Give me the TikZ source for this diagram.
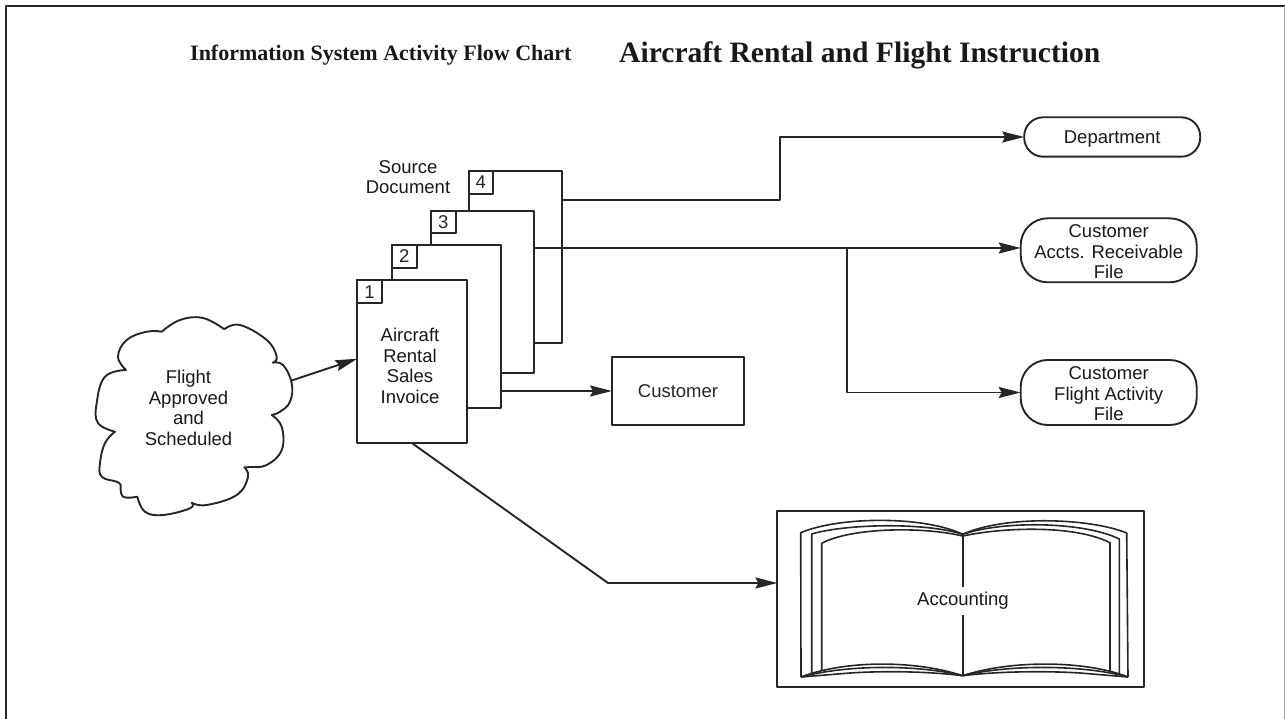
\documentclass[tikz,border=0pt]{standalone}
\usepackage{fontspec}
\setmainfont{Liberation Sans}
\newfontfamily\titlefont{Liberation Serif}
\usetikzlibrary{arrows.meta}
\tikzset{
  line/.style={line width=1.9pt,black!85},
  flow/.style={line,-{Stealth[length=22pt,width=11pt,inset=3pt]}},
  box/.style={draw,line,fill=white,rectangle,inner sep=0pt,outer sep=0pt,align=center},
  tabbox/.style={box,font=\fontsize{18.5}{20}\selectfont},
  term/.style={box,rounded corners=27pt,minimum width=176pt,font=\fontsize{18.5}{20.6}\selectfont},
  lbl/.style={inner sep=0pt,align=center,font=\fontsize{18.5}{20.6}\selectfont,text=black!90},
  ttl/.style={inner sep=0pt,anchor=west,text=black!90},
  bookline/.style={line,line width=1.6pt}
}
\begin{document}
\begin{tikzpicture}[x=1pt,y=-1pt,line join=round]
\useasboundingbox (0,0) rectangle (1285,719);
% frame
\draw[line width=1.8pt,black!85] (6.3,719) -- (6.3,6.3) -- (1285,6.3);
\draw[line width=1.4pt,black!35] (1284.4,6.3) -- (1284.4,719);
% title
\node[ttl] (t1) at (190,55) {\titlefont\bfseries\fontsize{22}{24}\selectfont Information System Activity Flow Chart};
\node[ttl] (t2) at (619,55) {\titlefont\bfseries\fontsize{29.6}{32}\selectfont Aircraft Rental and Flight Instruction};
% cloud
\draw[line] plot[smooth,tension=.7] coordinates {(224.3,329.3) (240,325) (266.7,340) (276.7,356.7) (272.7,362.7)}
 -- plot[smooth,tension=.7] coordinates {(272.7,362.7) (283,365) (291.7,383) (290,401.7) (280,411.7) (271.7,415)}
 -- plot[smooth,tension=.7] coordinates {(271.7,415) (281.7,426.7) (281.7,450) (266.7,465) (250,467) (244.3,467.3)}
 -- plot[smooth,tension=.7] coordinates {(244.3,467.3) (248,477) (236.7,495) (206.7,505) (191.7,502.7)}
 -- plot[smooth,tension=.7] coordinates {(191.7,502.7) (190,508.3) (163,515) (145,511.7) (137.3,496.7)}
 -- plot[smooth,tension=.7] coordinates {(137.3,496.7) (123,496.7) (120.7,485)}
 -- plot[smooth,tension=.7] coordinates {(120.7,485) (116.7,481.7) (101.7,476.7) (100,463) (105,443) (115,431.7)}
 -- plot[smooth,tension=.7] coordinates {(115,431.7) (98,423) (96.7,403) (105,376.7) (126,370)}
 -- plot[smooth,tension=.7] coordinates {(126,370) (118,356.7) (126.7,340) (146.7,331.7) (161.7,331.7)}
 -- plot[smooth,tension=.7] coordinates {(161.7,331.7) (180,320) (203,318) (224.3,329.3)};
\node[lbl] (cloud) at (188.5,408) {Flight\\Approved\\and\\Scheduled};
\coordinate (cloudout) at (291.5,380.5);
% source documents
\node[lbl] (src) at (408,177) {Source\\Document};
\node[box,minimum width=93pt,minimum height=172pt] (d4) at (515.2,256.7) {};
\node[tabbox,minimum width=24pt,minimum height=23.3pt] (n4) at (480.7,182.4) {4};
\node[box,minimum width=103.3pt,minimum height=162.6pt] (d3) at (482.7,292) {};
\node[tabbox,minimum width=24.7pt,minimum height=22.6pt] (n3) at (443.3,222) {3};
\node[box,minimum width=109pt,minimum height=163.3pt] (d2) at (446.2,326.7) {};
\node[tabbox,minimum width=25pt,minimum height=22.7pt] (n2) at (404.2,256.4) {2};
\node[box,minimum width=110pt,minimum height=163.3pt] (d1) at (412.3,361.7) {};
\node[tabbox,minimum width=24.7pt,minimum height=23.3pt] (n1) at (369.6,291.7) {1};
\node[lbl] (inv) at (410,366) {Aircraft\\Rental\\Sales\\Invoice};
% destinations
\node[term,rounded corners=19pt,minimum height=39.4pt] (dept) at (1112.2,137) {};
\node[lbl] (deptx) at (1112.2,139) {Department};
\node[term,minimum height=64pt] (accts) at (1108.7,250.3) {};
\node[lbl] (acctsx) at (1108.7,252) {Customer\\Accts. Receivable\\File};
\node[term,minimum height=65pt] (fly) at (1108.7,392.5) {};
\node[lbl] (flyx) at (1108.7,394) {Customer\\Flight Activity\\File};
\node[box,minimum width=132pt,minimum height=68pt,font=\fontsize{18.5}{20}\selectfont] (cust) at (678,391) {Customer};
% ledger
\node[box,minimum width=366.7pt,minimum height=175.7pt] (acct) at (960.7,598.8) {};
\draw[bookline] (962.7,534.3) -- (962.7,675.7);
% left page
\draw[bookline] (801,677) -- (800.7,532.7) .. controls (840,516) and (925,516) .. (962.7,534.3);
\draw[bookline] (811.7,675) -- (811.7,534) .. controls (845,524) and (925,522) .. (962.7,534.3);
\draw[bookline] (821.7,671) -- (821.7,543.3) .. controls (850,528) and (920,526) .. (962.7,536);
% right page
\draw[bookline] (1128,677) -- (1126.7,533) .. controls (1090,518) and (1005,515) .. (962.7,534.3);
\draw[bookline] (1119.3,675) -- (1119.3,539) .. controls (1085,522) and (1005,520) .. (962.7,534.3);
\draw[bookline] (1110,671) -- (1110,542.7) .. controls (1075,525) and (1005,527) .. (962.7,536);
% page bottoms
\draw[bookline] (801,677) .. controls (845,660) and (915,660) .. (962.7,675.7);
\draw[bookline] (801,677) .. controls (845,665) and (915,664) .. (962.7,675.7);
\draw[bookline] (801,677) -- (850,673) .. controls (880,671) and (925,671) .. (962.7,675.7);
\draw[bookline] (1128,677) .. controls (1085,660) and (1010,660) .. (962.7,675.7);
\draw[bookline] (1128,677) .. controls (1085,665) and (1010,664) .. (962.7,675.7);
\draw[bookline] (1128,677) -- (1080,673) .. controls (1050,671) and (1000,671) .. (962.7,675.7);
\node[lbl,fill=white,inner xsep=0pt,inner ysep=5pt] (acctx) at (963,601) {Accounting};
% connectors
\coordinate (b4) at (780,200);
\coordinate (b3) at (847,248);
\coordinate (b5) at (608,583);
\draw[flow] (cloudout) -- ([yshift=3pt]d1.west);
\draw[flow] (d2.east |- cust.west) -- (cust.west);
\draw[flow] (d4.east |- b4) -- (b4) -- (b4 |- dept.west) -- (dept.west);
\draw[flow] (d3.east |- b3) -- (b3 -| accts.west);
\draw[flow] (b3) -- (b3 |- fly.west) -- (fly.west);
\draw[flow] (d1.south) -- (b5) -- (b5 -| acct.west);
\end{tikzpicture}
\end{document}
